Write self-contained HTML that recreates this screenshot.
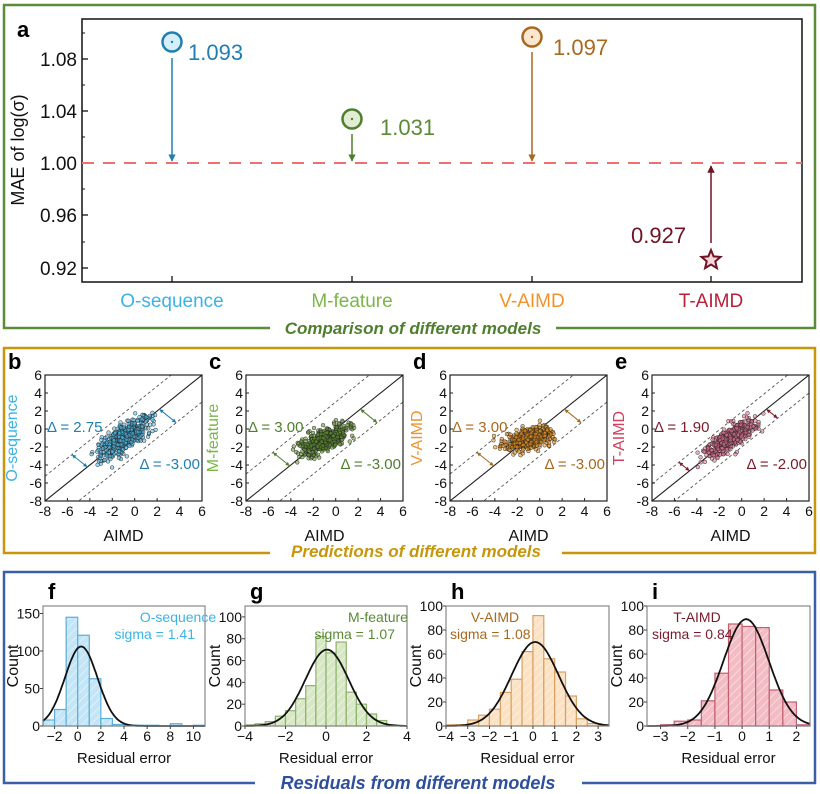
<!DOCTYPE html>
<html><head><meta charset="utf-8">
<style>
html,body{margin:0;padding:0;background:#fff;}
svg{display:block;font-family:"Liberation Sans",Arial,sans-serif;}
</style></head>
<body>
<svg id="s" width="820" height="794" viewBox="0 0 820 794" xmlns="http://www.w3.org/2000/svg">
<defs>
<marker id="ab" viewBox="0 0 10 10" refX="9" refY="5" markerWidth="5" markerHeight="5" orient="auto"><path d="M0,0L10,5L0,10z" fill="#1f7fb0"/></marker>
<marker id="ag" viewBox="0 0 10 10" refX="9" refY="5" markerWidth="5" markerHeight="5" orient="auto"><path d="M0,0L10,5L0,10z" fill="#4f7f2e"/></marker>
<marker id="ao" viewBox="0 0 10 10" refX="9" refY="5" markerWidth="5" markerHeight="5" orient="auto"><path d="M0,0L10,5L0,10z" fill="#a8681e"/></marker>
<marker id="ar" viewBox="0 0 10 10" refX="9" refY="5" markerWidth="5" markerHeight="5" orient="auto"><path d="M0,0L10,5L0,10z" fill="#6e1424"/></marker>
</defs>

<path d="M270,328 H4 V5 H815 V328 H556" fill="none" stroke="#5b8c3a" stroke-width="2.5"/>
<text x="413" y="334" text-anchor="middle" font-size="17" font-weight="bold" font-style="italic" fill="#4f7f2e">Comparison of different models</text>
<text x="17" y="37" font-size="22" font-weight="bold">a</text>
<rect x="82" y="19" width="720" height="263" fill="none" stroke="#111" stroke-width="1.5"/>
<g id="aticks"></g>
<text transform="translate(24,150) rotate(-90)" text-anchor="middle" font-size="18" fill="#111">MAE of log(σ)</text>
<line x1="82" y1="163" x2="802" y2="163" stroke="#f07070" stroke-width="2" stroke-dasharray="12,9"/>
<circle cx="172" cy="42" r="9.5" fill="#d4eefa" stroke="#1f7fb0" stroke-width="2.5"/><circle cx="172" cy="42" r="1.2" fill="#1f7fb0"/>
<line x1="172" y1="58" x2="172" y2="161" stroke="#1f7fb0" stroke-width="1.5" marker-end="url(#ab)"/>
<text x="188" y="60" font-size="22" fill="#1f7fb0">1.093</text>
<circle cx="352" cy="119" r="9.5" fill="#e2edd5" stroke="#4f7f2e" stroke-width="2.5"/><circle cx="352" cy="119" r="1.2" fill="#4f7f2e"/>
<line x1="352" y1="134" x2="352" y2="161" stroke="#4f7f2e" stroke-width="1.5" marker-end="url(#ag)"/>
<text x="380" y="135" font-size="22" fill="#5a8a36">1.031</text>
<circle cx="532" cy="37" r="9.5" fill="#fbe6cf" stroke="#a8681e" stroke-width="2.5"/><circle cx="532" cy="37" r="1.2" fill="#a8681e"/>
<line x1="532" y1="52" x2="532" y2="161" stroke="#a8681e" stroke-width="1.5" marker-end="url(#ao)"/>
<text x="553" y="55" font-size="22" fill="#a8681e">1.097</text>
<polygon id="star" fill="#f6d6da" stroke="#6e1424" stroke-width="2"/>
<line x1="711" y1="243" x2="711" y2="166" stroke="#6e1424" stroke-width="1.5" marker-end="url(#ar)"/>
<text x="631" y="243" font-size="22" fill="#6e1424">0.927</text>
<text x="172" y="307" text-anchor="middle" font-size="19" fill="#3bb3e6">O-sequence</text>
<text x="352" y="307" text-anchor="middle" font-size="19" fill="#7ab648">M-feature</text>
<text x="532" y="307" text-anchor="middle" font-size="19" fill="#f0932b">V-AIMD</text>
<text x="711" y="307" text-anchor="middle" font-size="19" fill="#b8203a">T-AIMD</text>

<path d="M270,553 H4 V348 H815 V553 H562" fill="none" stroke="#c8960a" stroke-width="2.5"/>
<text x="416" y="557" text-anchor="middle" font-size="17" font-weight="bold" font-style="italic" fill="#c8960a">Predictions of different models</text>
<g id="scat"></g>

<path d="M255,783 H4 V572 H815 V783 H582" fill="none" stroke="#3a5ea8" stroke-width="2.5"/>
<text x="418" y="789" text-anchor="middle" font-size="18" font-weight="bold" font-style="italic" fill="#2e4f9c">Residuals from different models</text>
<g id="hist"></g>
</svg>
<script>
var NS="http://www.w3.org/2000/svg";
function el(p,t,a,txt){var e=document.createElementNS(NS,t);for(var k in a)e.setAttribute(k,a[k]);if(txt!==undefined)e.textContent=txt;p.appendChild(e);return e;}
var svg=document.getElementById('s');
(function(){var pts=[],cx=711,cy=260;for(var i=0;i<10;i++){var r=i%2?4.5:10,a=-Math.PI/2+i*Math.PI/5;pts.push((cx+r*Math.cos(a)).toFixed(1)+','+(cy+r*Math.sin(a)).toFixed(1));}document.getElementById('star').setAttribute('points',pts.join(' '));})();
var ag=document.getElementById('aticks');
[[1.08,59],[1.04,111],[1.00,163],[0.96,215],[0.92,268]].forEach(function(t){
 el(ag,'line',{x1:82,y1:t[1],x2:88,y2:t[1],stroke:'#111','stroke-width':1.3});
 el(ag,'text',{x:77,y:t[1]+7,'text-anchor':'end','font-size':19,fill:'#111'},t[0].toFixed(2));
 el(ag,'line',{x1:82,y1:t[1]-26,x2:85,y2:t[1]-26,stroke:'#111','stroke-width':1});
});
[172,352,532,711].forEach(function(x){el(ag,'line',{x1:x,y1:282,x2:x,y2:276,stroke:'#111','stroke-width':1.3});});
var seed=12345;function rnd(){seed=(seed*16807)%2147483647;return seed/2147483647;}
function gauss(){var u=rnd()||1e-9,v=rnd();return Math.sqrt(-2*Math.log(u))*Math.cos(2*Math.PI*v);}
var sg=document.getElementById('scat');
var SP=[
 {x0:45,lab:'b',name:'O-sequence',nc:'#3bb3e6',tc:'#1f7fb0',fill:'#4cb8e6',c1:2.75,c2:-3,d1:'Δ = 2.75',d2:'Δ = -3.00',m:0.75,b:-0.3,s:0.8,xm:-1,xs:1.2,xl:-4,xh:2},
 {x0:246,lab:'c',name:'M-feature',nc:'#7ab648',tc:'#4f7f2e',fill:'#5f8f30',c1:3,c2:-3,d1:'Δ = 3.00',d2:'Δ = -3.00',m:0.5,b:-0.7,s:0.65,xm:-1,xs:1.2,xl:-5,xh:1.8},
 {x0:450,lab:'d',name:'V-AIMD',nc:'#f0932b',tc:'#a8681e',fill:'#e8901c',c1:3,c2:-3,d1:'Δ = 3.00',d2:'Δ = -3.00',m:0.3,b:-0.8,s:0.55,xm:-1,xs:1.1,xl:-4.5,xh:1.7},
 {x0:652,lab:'e',name:'T-AIMD',nc:'#d04060',tc:'#7a1a2a',fill:'#e07090',c1:1.9,c2:-2,d1:'Δ = 1.90',d2:'Δ = -2.00',m:0.7,b:-0.3,s:0.6,xm:-1,xs:1.1,xl:-4,xh:2}
];
SP.forEach(function(p){
 var W=157,T=375,H=126;
 function X(v){return p.x0+(v+8)/14*W;} function Y(v){return T+H-(v+8)/14*H;}
 var g=el(sg,'g',{});
 el(g,'text',{x:p.x0-37,y:369,'font-size':22,'font-weight':'bold'},p.lab);
 var cp=el(g,'clipPath',{id:'c'+p.lab});el(cp,'rect',{x:p.x0,y:T,width:W,height:H});
 var gc=el(g,'g',{'clip-path':'url(#c'+p.lab+')'});
 el(gc,'line',{x1:X(-8),y1:Y(-8),x2:X(6),y2:Y(6),stroke:'#222','stroke-width':1.1});
 [p.c1,p.c2].forEach(function(c){el(gc,'line',{x1:X(-8),y1:Y(-8+c),x2:X(6),y2:Y(6+c),stroke:'#555','stroke-width':0.9,'stroke-dasharray':'3,2.5'});});
 for(var i=0;i<420;i++){var x=p.xm+p.xs*gauss();if(x<p.xl||x>p.xh){x=p.xl+rnd()*(p.xh-p.xl);}var y=p.m*x+p.b+p.s*gauss();
  el(gc,'circle',{cx:X(x).toFixed(1),cy:Y(y).toFixed(1),r:1.9,fill:p.fill,'fill-opacity':0.55,stroke:'#222','stroke-width':0.45});}
 el(g,'rect',{x:p.x0,y:T,width:W,height:H,fill:'none',stroke:'#222','stroke-width':1.2});
 for(var v=-8;v<=6;v+=2){
  el(g,'text',{x:p.x0-3,y:Y(v)+5,'text-anchor':'end','font-size':14,fill:'#111'},v);
  el(g,'text',{x:X(v),y:T+H+15,'text-anchor':'middle','font-size':14,fill:'#111'},v);
  el(g,'line',{x1:p.x0,y1:Y(v),x2:p.x0+3,y2:Y(v),stroke:'#222'});
  el(g,'line',{x1:X(v),y1:T+H,x2:X(v),y2:T+H-3,stroke:'#222'});
 }
 el(g,'text',{x:p.x0+W/2,y:541,'text-anchor':'middle','font-size':16,fill:'#111'},'AIMD');
 el(g,'text',{transform:'translate('+(p.x0-28)+','+(T+H/2)+') rotate(-90)','text-anchor':'middle','font-size':16,fill:p.nc},p.name);
 el(g,'text',{x:p.x0+2,y:432,'font-size':15,fill:p.tc},p.d1);
 el(g,'text',{x:p.x0+W-2,y:469,'text-anchor':'end','font-size':15,fill:p.tc},p.d2);
 function br(a,c1,c2){var t=(c1-c2)/2;var x1=X(a),y1=Y(a+c1),x2=X(a+t),y2=Y(a+c1-t);
  el(g,'line',{x1:x1,y1:y1,x2:x2,y2:y2,stroke:p.tc,'stroke-width':1});
  [[x1,y1,x2,y2],[x2,y2,x1,y1]].forEach(function(q){var dx=q[2]-q[0],dy=q[3]-q[1],L=Math.hypot(dx,dy),ux=dx/L,uy=dy/L;
   var bx=q[0]+ux*4,by=q[1]+uy*4;el(g,'path',{d:'M'+q[0]+','+q[1]+'L'+(bx-uy*2)+','+(by+ux*2)+'L'+(bx+uy*2)+','+(by-ux*2)+'z',fill:p.tc});});}
 br(2.2,0,p.c2); br(-5.6,p.c1,0);
});
var hg=document.getElementById('hist');
var HP=[
 {x0:43,x1:205,lab:'f',xl:-3,xh:11,ym:160,yt:[0,50,100,150],xt:[-2,0,2,4,6,8,10],b0:-3,bw:1,cnt:[8,22,145,121,63,10,2,1,1,1,0,3,0,1],mu:0.3,sg:1.41,pk:106,fill:'#c4e5f6',st:'#5aaedb',tc:'#3bb3e6',n1:'O-sequence',n2:'sigma = 1.41',tx:195,anc:'end'},
 {x0:245,x1:407,lab:'g',xl:-4,xh:4,ym:110,yt:[0,20,40,60,80,100],xt:[-4,-2,0,2,4],b0:-4,bw:0.5,cnt:[1,2,4,9,14,25,37,82,67,77,31,20,11,5,1],mu:0.05,sg:1.07,pk:70,fill:'#d8e8c6',st:'#8db36a',tc:'#5a8a36',n1:'M-feature',n2:'sigma = 1.07',tx:395,anc:'end'},
 {x0:446,x1:609,lab:'h',xl:-4,xh:3.5,ym:100,yt:[0,20,40,60,80,100],xt:[-4,-3,-2,-1,0,1,2,3],b0:-4,bw:0.5,cnt:[1,1,5,9,14,28,39,62,92,56,45,25,6,2,1],mu:0.1,sg:1.08,pk:70,fill:'#fbe2c4',st:'#d9a062',tc:'#a8681e',n1:'V-AIMD',n2:'sigma = 1.08',tx:450,anc:'start'},
 {x0:647,x1:810,lab:'i',xl:-3.5,xh:2.5,ym:100,yt:[0,20,40,60,80,100],xt:[-3,-2,-1,0,1,2],b0:-3,bw:0.5,cnt:[1,4,5,21,44,85,83,82,30,20,1],mu:0.15,sg:0.84,pk:89,fill:'#f3bcc4',st:'#c06070',tc:'#7a1a2a',n1:'T-AIMD',n2:'sigma = 0.84',tx:652,anc:'start'}
];
var defs=svg.querySelector('defs');
HP.forEach(function(p){
 var T=606,B=726,W=p.x1-p.x0;
 function X(v){return p.x0+(v-p.xl)/(p.xh-p.xl)*W;} function Y(v){return B-v/p.ym*(B-T);}
 var pat=el(defs,'pattern',{id:'h'+p.lab,width:6,height:6,patternUnits:'userSpaceOnUse',patternTransform:'rotate(45)'});
 el(pat,'rect',{width:6,height:6,fill:p.fill});el(pat,'line',{x1:0,y1:0,x2:0,y2:6,stroke:'#fff','stroke-width':1.2,'stroke-opacity':0.7});
 var g=el(hg,'g',{});
 el(g,'text',{x:p.x0+5,y:599,'font-size':22,'font-weight':'bold'},p.lab);
 p.cnt.forEach(function(c,i){if(!c)return;var a=p.b0+i*p.bw;var xa=Math.max(X(a),p.x0),xb=Math.min(X(a+p.bw),p.x1);
  el(g,'rect',{x:xa,y:Y(c),width:xb-xa,height:B-Y(c),fill:'url(#h'+p.lab+')',stroke:p.st,'stroke-width':1.2});});
 var d='';for(var k=0;k<=200;k++){var v=p.xl+(p.xh-p.xl)*k/200;var yv=p.pk*Math.exp(-Math.pow(v-p.mu,2)/(2*p.sg*p.sg));d+=(k?'L':'M')+X(v).toFixed(1)+','+Y(yv).toFixed(1);}
 el(g,'path',{d:d,fill:'none',stroke:'#111','stroke-width':1.8});
 el(g,'rect',{x:p.x0,y:T,width:W,height:B-T,fill:'none',stroke:'#888','stroke-width':1.2});
 p.yt.forEach(function(v){el(g,'text',{x:p.x0-3,y:Y(v)+5,'text-anchor':'end','font-size':14,fill:'#111'},v);el(g,'line',{x1:p.x0-3,y1:Y(v),x2:p.x0,y2:Y(v),stroke:'#444'});});
 p.xt.forEach(function(v){el(g,'text',{x:X(v),y:741,'text-anchor':'middle','font-size':14,fill:'#111'},v<0?'\u2212'+(-v):v);el(g,'line',{x1:X(v),y1:B,x2:X(v),y2:B+3,stroke:'#444'});});
 el(g,'text',{x:(p.x0+p.x1)/2,y:763,'text-anchor':'middle','font-size':15,fill:'#111'},'Residual error');
 el(g,'text',{transform:'translate('+(p.x0-25)+','+((T+B)/2)+') rotate(-90)','text-anchor':'middle','font-size':16,fill:'#111'},'Count');
 var cx=p.anc=='end'?p.tx:p.tx+45;
 el(g,'text',{x:p.anc=='end'?p.tx-17:cx,y:622,'text-anchor':'middle','font-size':14,fill:p.tc},p.n1);
 el(g,'text',{x:p.tx,y:639,'text-anchor':p.anc,'font-size':14,fill:p.tc},p.n2);
});
</script>
</body></html>
